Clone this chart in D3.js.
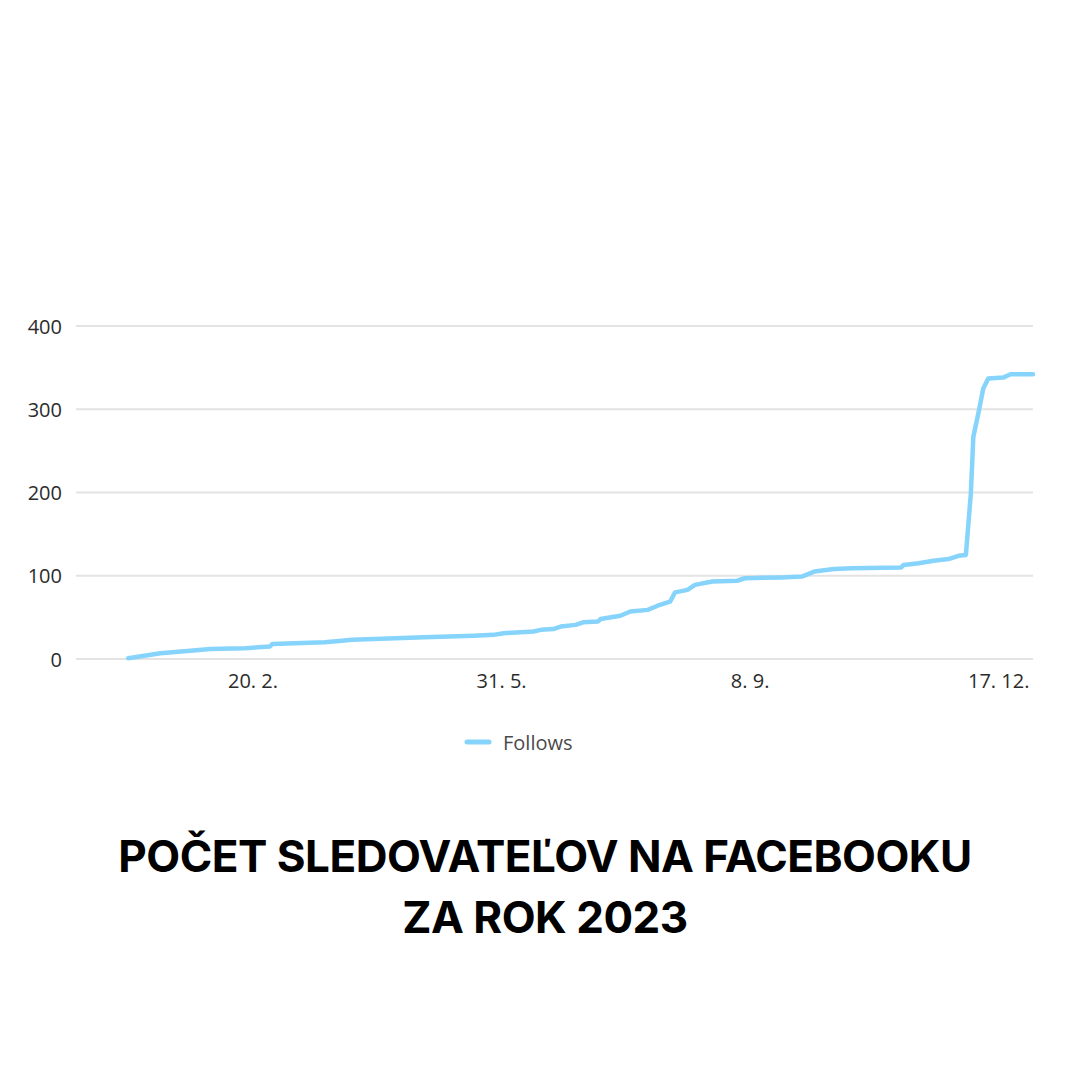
<!DOCTYPE html>
<html>
<head>
<meta charset="utf-8">
<script src="https://cdn.jsdelivr.net/npm/d3@7"></script>
<style>
  html, body { margin: 0; padding: 0; background: #fff; }
  svg { display: block; }
</style>
</head>
<body>
<svg id="chart" width="1080" height="1080"></svg>
<script>
// Daily follower count over 2023 (sampled at the visible turning points)
const dates = [
  "2023-01-01","2023-01-14","2023-01-26","2023-02-03","2023-02-17","2023-02-27","2023-02-28",
  "2023-03-21","2023-03-28","2023-04-01","2023-04-10","2023-04-30","2023-05-20","2023-05-28",
  "2023-06-01","2023-06-13","2023-06-16","2023-06-21","2023-06-24","2023-06-30","2023-07-03",
  "2023-07-09","2023-07-10","2023-07-18","2023-07-22","2023-07-29","2023-08-02","2023-08-07",
  "2023-08-09","2023-08-14","2023-08-17","2023-08-24","2023-09-03","2023-09-06","2023-09-21",
  "2023-09-29","2023-10-04","2023-10-12","2023-10-19","2023-11-08","2023-11-09","2023-11-15",
  "2023-11-21","2023-11-27","2023-12-01","2023-12-04","2023-12-06","2023-12-07","2023-12-09",
  "2023-12-11","2023-12-13","2023-12-19","2023-12-22","2023-12-31"
];
const follows = [
  1, 7, 10, 12, 13, 15, 18,
  20, 22, 23, 24, 26, 28, 29,
  31, 33, 35, 36, 39, 41, 44,
  45, 48, 52, 57, 59, 64, 69,
  80, 83, 89, 93, 94, 97, 98,
  99, 105, 108, 109, 110, 113, 115,
  118, 120, 124, 125, 199, 267, 295,
  325, 337, 338, 342, 342
];
const xTickDates = ["2023-02-20", "2023-05-31", "2023-09-08", "2023-12-17"];
const yTicks = [0, 100, 200, 300, 400];
const seriesName = "Follows";
const titleLines = ["POČET SLEDOVATEĽOV NA FACEBOOKU", "ZA ROK 2023"];

const parse = d3.utcParse("%Y-%m-%d");
const data = dates.map((d, i) => ({ date: parse(d), value: follows[i] }));

const svg = d3.select("#chart");
const plot = { left: 76, right: 1033, top: 326, bottom: 659 };

const x = d3.scaleUtc()
  .domain([parse("2022-12-11"), parse("2023-12-31")])
  .range([plot.left, plot.right]);
const y = d3.scaleLinear().domain([0, 400]).range([plot.bottom, plot.top]);

// horizontal gridlines
svg.append("g")
  .selectAll("line")
  .data(yTicks)
  .join("line")
  .attr("x1", plot.left).attr("x2", plot.right)
  .attr("y1", d => y(d)).attr("y2", d => y(d))
  .attr("stroke", "#e3e3e3")
  .attr("stroke-width", 2);

const labelFont = "'Open Sans', 'Noto Sans', sans-serif";
const labelSize = 20;

// y axis labels
const yAxis = svg.append("g")
  .attr("transform", `translate(${plot.left - 14},0)`)
  .call(d3.axisLeft(y).tickValues(yTicks).tickSize(0).tickPadding(0));
yAxis.select(".domain").remove();
yAxis.selectAll("text")
  .attr("font-family", labelFont)
  .attr("font-size", labelSize)
  .attr("fill", "#2b2b2b")
  .attr("dy", "0.35em");

// x axis labels
const xAxis = svg.append("g")
  .attr("transform", `translate(0,${plot.bottom + 15})`)
  .call(d3.axisBottom(x)
    .tickValues(xTickDates.map(parse))
    .tickFormat(d => `${d.getUTCDate()}. ${d.getUTCMonth() + 1}.`)
    .tickSize(0).tickPadding(0));
xAxis.select(".domain").remove();
xAxis.selectAll("text")
  .attr("font-family", labelFont)
  .attr("font-size", labelSize)
  .attr("fill", "#2b2b2b")
  .attr("dy", "0.71em");

// series line
const lineColor = "#86d4fb";
svg.append("path")
  .datum(data)
  .attr("fill", "none")
  .attr("stroke", lineColor)
  .attr("stroke-width", 4.5)
  .attr("stroke-linejoin", "round")
  .attr("stroke-linecap", "round")
  .attr("d", d3.line().x(d => x(d.date)).y(d => y(d.value)));

// legend
const legend = svg.append("g").attr("transform", "translate(467,742)");
legend.append("line")
  .attr("x1", 0).attr("x2", 22).attr("y1", 0).attr("y2", 0)
  .attr("stroke", lineColor).attr("stroke-width", 5).attr("stroke-linecap", "round");
legend.append("text")
  .attr("x", 36).attr("y", 1).attr("dy", "0.35em")
  .attr("font-family", labelFont).attr("font-size", labelSize).attr("fill", "#4a4a4a")
  .text(seriesName);

// title
svg.append("g")
  .selectAll("text")
  .data(titleLines)
  .join("text")
  .attr("x", 545)
  .attr("y", (d, i) => 872 + i * 61)
  .attr("text-anchor", "middle")
  .attr("font-family", "Inter, Roboto, sans-serif")
  .attr("font-weight", 700)
  .attr("font-size", 44)
  .attr("letter-spacing", -0.5)
  .attr("fill", "#000")
  .text(d => d);
</script>
</body>
</html>
